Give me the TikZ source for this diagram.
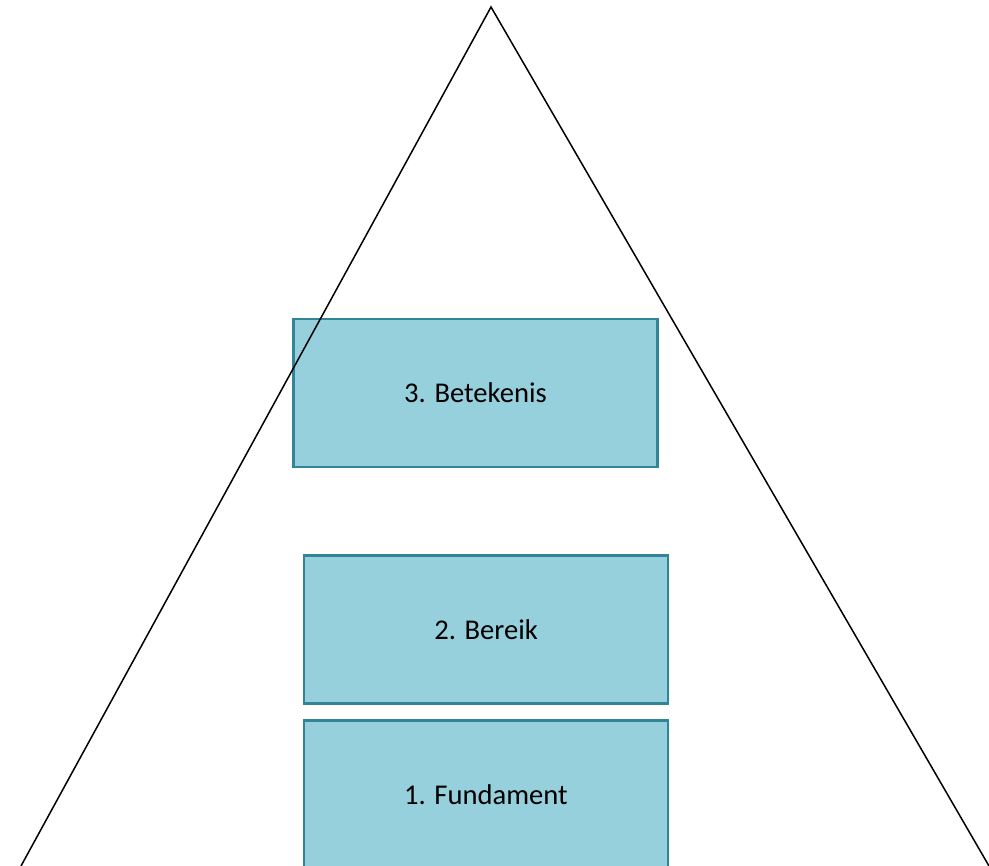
\documentclass[tikz,border=0pt]{standalone}
\usepackage{fontspec}
\setmainfont{Carlito}

\definecolor{laagvul}{RGB}{150,208,220}
\definecolor{laagrand}{RGB}{49,133,150}

\tikzset{%
  laag/.style={draw=laagrand, line width=1.3pt, fill=laagvul, text centered,
    minimum width=182pt, minimum height=74pt, inner sep=0pt, font=\fontsize{14.3}{17}\selectfont},
  lijn/.style={draw, line width=0.75pt, color=black},
}

\begin{document}
\begin{tikzpicture}[x=0.5pt, y=-0.5pt]
\clip (0,0) rectangle (989,866);
\fill[white] (0,0) rectangle (989,866);
\node[laag] (betekenis) at (475.5,393) {3. Betekenis};
\node[laag] (bereik) at (486,629.5) {2. Bereik};
\node[laag] (fundament) at (486,794.5) {1. Fundament};
\coordinate (top) at (491,7);
\coordinate (links) at (21,866);
\coordinate (rechts) at (989,866);
\draw[lijn] (links) -- (top) -- (rechts);
\end{tikzpicture}
\end{document}
